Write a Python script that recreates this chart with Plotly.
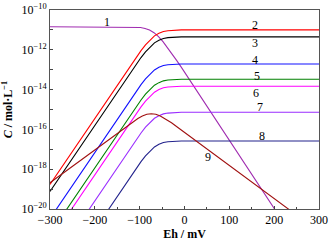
import plotly.graph_objects as go

# Eh (mV) sample positions and log10(C / mol·L-1) values
eh_c1 = [-300, -128, -118, -108, -98, -88, -78, -68, -58, -48, -38, -28, -18, -8, 240]
lg_c1 = [-10.84, -10.844, -10.849, -10.86, -10.88, -10.925, -11.006, -11.141, -11.339,
         -11.591, -11.881, -12.193, -12.516, -12.844, -21.34]

eh_c28 = [-300, -127, -117, -107, -97, -87, -77, -67, -57, -47, -37, -27, -17, -7, 300]
lg_c2 = [-18.77, -13.00, -12.68, -12.35, -12.04, -11.75, -11.50, -11.30, -11.17, -11.08, -11.04, -11.02, -11.01, -11.00, -11.00]
lg_c3 = [-19.12, -13.35, -13.03, -12.70, -12.39, -12.10, -11.85, -11.65, -11.52, -11.43, -11.39, -11.37, -11.36, -11.35, -11.35]
lg_c4 = [-20.48, -14.71, -14.39, -14.06, -13.75, -13.46, -13.21, -13.01, -12.88, -12.79, -12.75, -12.73, -12.72, -12.71, -12.71]
lg_c5 = [-21.25, -15.48, -15.16, -14.83, -14.52, -14.23, -13.98, -13.78, -13.65, -13.56, -13.52, -13.50, -13.49, -13.48, -13.48]
lg_c6 = [-21.60, -15.83, -15.51, -15.18, -14.87, -14.58, -14.33, -14.13, -14.00, -13.91, -13.87, -13.85, -13.84, -13.83, -13.83]
lg_c7 = [-22.91, -17.14, -16.82, -16.49, -16.18, -15.89, -15.64, -15.44, -15.31, -15.22, -15.18, -15.16, -15.15, -15.14, -15.14]
lg_c8 = [-24.35, -18.58, -18.26, -17.93, -17.62, -17.33, -17.08, -16.88, -16.75, -16.66, -16.62, -16.60, -16.59, -16.58, -16.58]

eh_c9 = [-300, -134, -119, -104, -94, -84, -74, -64, -54, -44, -29, -14, 240]
lg_c9 = [-18.68, -15.914, -15.67, -15.45, -15.33, -15.24, -15.21, -15.24, -15.33, -15.45, -15.67, -15.914, -20.14]

curve_names = ["1", "2", "3", "4", "5", "6", "7", "8", "9"]
curve_colors = ["#A02CB0", "#FF0000", "#000000", "#1010FF", "#008000", "#FF00FF", "#9A2EFF", "#22228C", "#A01010"]

label_eh = [-173, 157, 157, 157, 161, 159, 168, 172, 53]
label_lg = [-10.62, -10.74, -11.64, -12.51, -13.32, -14.16, -14.89, -16.33, -17.37]

y_tick_exp = [-20, -19, -18, -17, -16, -15, -14, -13, -12, -11, -10]
x_ticks = [-300, -200, -100, 0, 100, 200, 300]

series = [
    (eh_c1, lg_c1), (eh_c28, lg_c2), (eh_c28, lg_c3), (eh_c28, lg_c4), (eh_c28, lg_c5),
    (eh_c28, lg_c6), (eh_c28, lg_c7), (eh_c28, lg_c8), (eh_c9, lg_c9),
]

SERIF = "Liberation Serif, Times New Roman, serif"

fig = go.Figure()
for (xs, lgs), name, col in zip(series, curve_names, curve_colors):
    fig.add_trace(go.Scatter(
        x=xs, y=[10 ** v for v in lgs], mode="lines", name=name,
        line=dict(color=col, width=1.1), showlegend=False, hoverinfo="skip",
    ))

for name, ex, ly in zip(curve_names, label_eh, label_lg):
    fig.add_annotation(x=ex, y=ly, text=name, showarrow=False,
                       font=dict(family=SERIF, size=12, color="black"))

y_text = []
for e in y_tick_exp:
    y_text.append("10<sup>−%d</sup>" % (-e) if e % 2 == 0 else "")

fig.update_layout(
    width=331, height=242,
    margin=dict(l=50, r=12, t=10, b=33),
    paper_bgcolor="white", plot_bgcolor="white",
    font=dict(family=SERIF, size=11, color="black"),
    xaxis=dict(
        range=[-300, 300], tickvals=x_ticks,
        ticktext=[("−%d" % -v) if v < 0 else str(v) for v in x_ticks],
        ticks="inside", ticklen=3, tickcolor="#444", showgrid=False, zeroline=False,
        showline=True, linecolor="#555", linewidth=1, mirror=True,
        minor=dict(ticks="inside", ticklen=2, tickcolor="#444", tick0=-250, dtick=100),
        tickfont=dict(family=SERIF, size=12), automargin=False,
        title=dict(text="<b>Eh / mV</b>", font=dict(family=SERIF, size=12), standoff=3),
    ),
    yaxis=dict(
        type="log", range=[-20, -10],
        tickvals=[10 ** e for e in y_tick_exp], ticktext=y_text,
        ticks="inside", ticklen=3, tickcolor="#444", showgrid=False, zeroline=False,
        showline=True, linecolor="#555", linewidth=1, mirror=True,
        tickfont=dict(family=SERIF, size=12), automargin=False,
        title=dict(text="<b><i>C</i> / mol·L<sup>−1</sup></b>", font=dict(family=SERIF, size=12), standoff=8),
    ),
)

fig.write_html("out.html", config={"displayModeBar": False},
               post_script="document.body.style.margin='0';document.body.style.overflow='hidden';")
